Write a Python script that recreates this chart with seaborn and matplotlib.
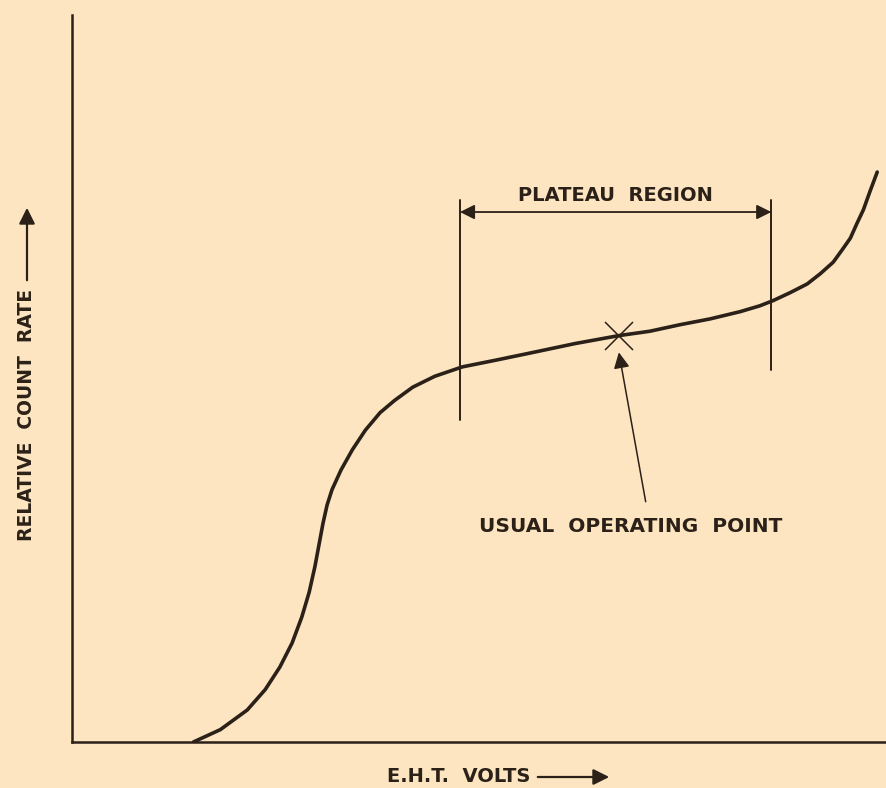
import matplotlib
matplotlib.use('Agg')
from matplotlib import pyplot as plt
import numpy as np
import pandas as pd
import seaborn as sns

# characteristic curve (arbitrary units 0..100)
volts = [14.9, 18.2, 21.5, 23.7, 25.5, 27.0, 28.2, 29.1, 29.8, 30.3, 30.8, 31.3,
         31.9, 33.0, 34.4, 36.0, 37.8, 39.6, 41.8, 44.5, 47.9, 51.9, 56.2, 61.7,
         67.1, 70.9, 74.6, 78.3, 82.0, 84.4, 86.0, 88.1, 90.2, 91.8, 93.4, 94.5,
         95.5, 96.3, 97.1, 97.9, 98.8]
count_rate = [0.0, 1.7, 4.4, 7.2, 10.3, 13.6, 17.2, 20.6, 24.1, 27.1, 30.1, 32.6,
              34.7, 37.4, 40.2, 42.9, 45.3, 47.0, 48.8, 50.3, 51.6, 52.5, 53.5, 54.8,
              55.9, 56.5, 57.4, 58.2, 59.2, 60.0, 60.7, 61.8, 63.0, 64.4, 66.0, 67.7,
              69.3, 71.3, 73.2, 75.7, 78.4]

plateau_start, plateau_end = 47.6, 85.8
plateau_left_span = (44.3, 74.6)
plateau_right_span = (51.2, 74.6)
plateau_arrow_y = 72.9
operating_point = (67.1, 55.9)

plateau_label = "PLATEAU  REGION"
operating_label = "USUAL  OPERATING  POINT"
x_label = "E.H.T.  VOLTS"
y_label = "RELATIVE  COUNT  RATE"

paper = "#fce5c0"
ink = "#2b2118"

sns.set_style("white", {"axes.facecolor": paper, "figure.facecolor": paper})
plt.rcParams['font.family'] = ['DejaVu Sans']

W, H = 887, 788
fig = plt.figure(figsize=(W / 100, H / 100), dpi=100)
ax = fig.add_axes([72 / W, (H - 742) / H, 815 / W, 727 / H])

df = pd.DataFrame({"volts": volts, "rate": count_rate})
sns.lineplot(data=df, x="volts", y="rate", sort=False, ax=ax,
             color=ink, linewidth=2.6, solid_capstyle="round",
             solid_joinstyle="round")

ax.set_xlim(0, 100)
ax.set_ylim(0, 100)
ax.set_xticks([])
ax.set_yticks([])
ax.set_xlabel("")
ax.set_ylabel("")
for side in ["top", "right"]:
    ax.spines[side].set_visible(False)
for side in ["left", "bottom"]:
    ax.spines[side].set_color(ink)
    ax.spines[side].set_linewidth(1.8)

# plateau bracket
ax.plot([plateau_start, plateau_start], plateau_left_span, color=ink, lw=1.4)
ax.plot([plateau_end, plateau_end], plateau_right_span, color=ink, lw=1.4)
ax.annotate("", xy=(plateau_start, plateau_arrow_y), xytext=(plateau_end, plateau_arrow_y),
            arrowprops=dict(arrowstyle="<|-|>", color=ink, lw=1.3,
                            mutation_scale=22, shrinkA=0, shrinkB=0))
ax.text((plateau_start + plateau_end) / 2, plateau_arrow_y + 1.0, plateau_label,
        ha="center", va="bottom", fontsize=14, fontweight="bold", color=ink)

# operating point
ax.plot(*operating_point, marker="x", markersize=20, markeredgewidth=1.1, color=ink)
ax.annotate(operating_label, xy=(operating_point[0], operating_point[1] - 2.3),
            xytext=(68.5, 29.6), ha="center", va="center",
            fontsize=14.5, fontweight="bold", color=ink,
            arrowprops=dict(arrowstyle="-|>", color=ink, lw=1.1,
                            mutation_scale=24, shrinkA=9, shrinkB=0,
                            relpos=(0.56, 1.0)))

# axis labels with arrows
fig.text(387 / W, 1 - 777 / H, x_label, ha="left", va="center",
         fontsize=14, fontweight="bold", color=ink)
fig.add_artist(matplotlib.patches.FancyArrowPatch(
    (535 / W, 1 - 777 / H), (612 / W, 1 - 777 / H), transform=fig.transFigure,
    arrowstyle="-|>", mutation_scale=24, color=ink, lw=1.6))

fig.text(27 / W, 1 - 415 / H, y_label, ha="center", va="center", rotation=90,
         fontsize=13.5, fontweight="bold", color=ink)
fig.add_artist(matplotlib.patches.FancyArrowPatch(
    (27 / W, 1 - 283 / H), (27 / W, 1 - 205 / H), transform=fig.transFigure,
    arrowstyle="-|>", mutation_scale=24, color=ink, lw=1.6))

fig.savefig("out.png", dpi=100, facecolor=paper)
